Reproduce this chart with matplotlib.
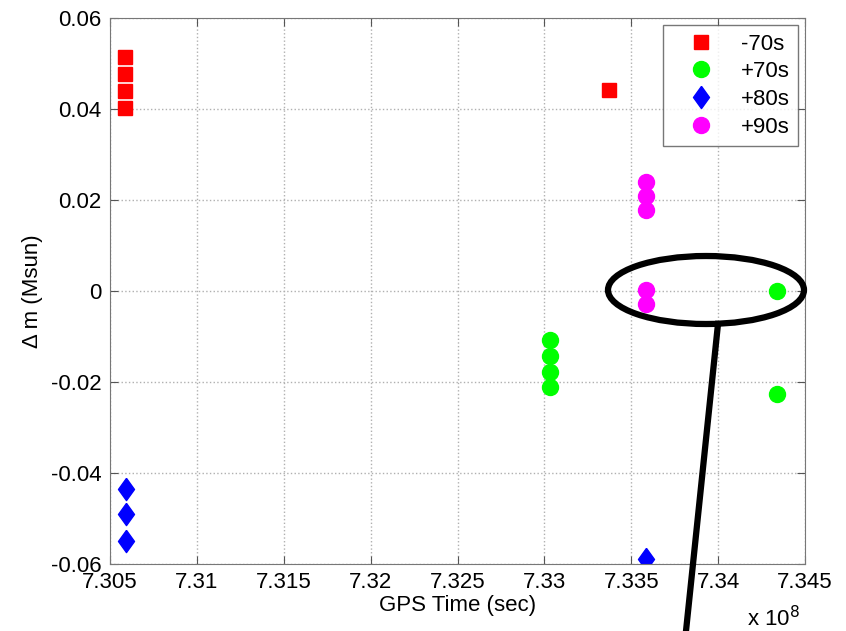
import matplotlib
matplotlib.use("Agg")
import matplotlib.pyplot as plt
from matplotlib.patches import Ellipse
from matplotlib.lines import Line2D
from matplotlib.ticker import FuncFormatter, MultipleLocator

plt.rcParams['font.family'] = ['Liberation Sans', 'DejaVu Sans']

# GPS times (sec) and mass offsets (Msun) per time shift
t_m70 = [7.30586e8, 7.30586e8, 7.30586e8, 7.30586e8, 7.33372e8]
dm_m70 = [0.0514, 0.0477, 0.0439, 0.0402, 0.0441]

t_p70 = [7.33032e8, 7.33032e8, 7.33032e8, 7.33032e8, 7.34339e8, 7.34339e8]
dm_p70 = [-0.0107, -0.0142, -0.0177, -0.0212, 0.0, -0.0226]

t_p80 = [7.30590e8, 7.30590e8, 7.30590e8, 7.33585e8]
dm_p80 = [-0.0435, -0.0490, -0.0549, -0.0589]

t_p90 = [7.33585e8, 7.33585e8, 7.33585e8, 7.33585e8, 7.33585e8]
dm_p90 = [0.0239, 0.0208, 0.0177, 0.0003, -0.0028]

# diamond a bit wider than matplotlib's 'd'
diamond = [(0, 1), (0.72, 0), (0, -1), (-0.72, 0), (0, 1)]

fig = plt.figure(figsize=(8.46, 6.31), dpi=100)
ax = fig.add_axes([110/846, 1 - 564/631, 695/846, 546/631])

ax.plot(t_m70, dm_m70, 's', color='#ff0000', markersize=9.5, label='-70s', linestyle='none')
ax.plot(t_p70, dm_p70, 'o', color='#00ff00', markersize=11.5, label='+70s', linestyle='none')
ax.plot(t_p80, dm_p80, marker=diamond, color='#0000ff', markersize=16, label='+80s', linestyle='none')
ax.plot(t_p90, dm_p90, 'o', color='#ff00ff', markersize=11.5, label='+90s', linestyle='none')

ax.set_xlim(7.305e8, 7.345e8)
ax.set_ylim(-0.06, 0.06)
ax.xaxis.set_major_locator(MultipleLocator(0.005e8))
ax.yaxis.set_major_locator(MultipleLocator(0.02))
ax.xaxis.set_major_formatter(FuncFormatter(lambda v, p: '%g' % round(v / 1e8, 4)))
ax.yaxis.set_major_formatter(FuncFormatter(lambda v, p: '0' if abs(v) < 1e-9 else '%g' % round(v, 3)))

ax.grid(True, color='#b0b0b0', linestyle=':', linewidth=1)
ax.tick_params(direction='in', length=6, top=True, right=True, labelsize=16, pad=6, color='#555555')
for s in ax.spines.values():
    s.set_color('#777777')

ax.set_xlabel('GPS Time (sec)', fontsize=16, labelpad=1)
ax.set_ylabel('\u0394 m (Msun)', fontsize=16, labelpad=6)
fig.text(773/846, 1 - 619/631, 'x 10$^{8}$', fontsize=16, ha='center', va='center')

leg = ax.legend(loc='upper right', fontsize=16, frameon=True, fancybox=False, edgecolor='#555555',
                borderpad=0.4, labelspacing=0.3, handletextpad=0.5, borderaxespad=0.3,
                handlelength=2.6)
leg.get_frame().set_linewidth(1)

# highlight around the zero-offset events
ell = Ellipse((706/846, 1 - 290/631), 196/846, 68/631, transform=fig.transFigure,
              fill=False, edgecolor='black', linewidth=4.5, clip_on=False)
fig.add_artist(ell)
fig.add_artist(Line2D([718/846, 686/846], [1 - 324/631, 0], transform=fig.transFigure,
                      color='black', linewidth=4.5))

fig.savefig('out.png', dpi=100)
